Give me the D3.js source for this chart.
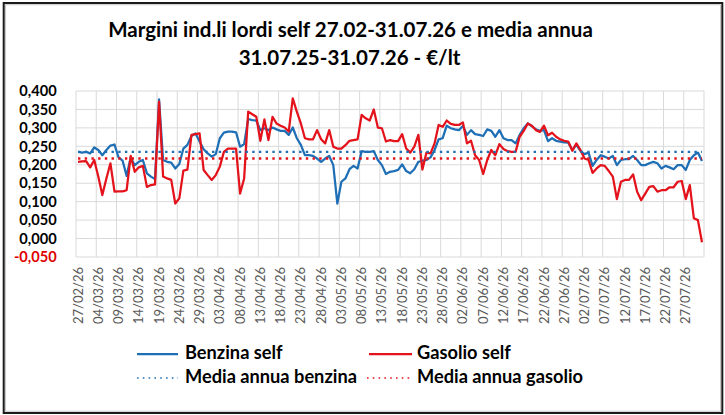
<!DOCTYPE html>
<html><head><meta charset="utf-8">
<script src="https://cdn.jsdelivr.net/npm/d3@7"></script>
<style>body{margin:0;background:#fff} svg{display:block}</style>
</head><body>
<svg id="c" width="725" height="415"></svg>
<script>
// ---------- DATA ----------
const startDate = "2026-02-27";
const endDate = "2026-07-31";
const benzinaSelf = [
0.235,0.233,0.235,0.231,0.247,0.240,0.226,0.240,0.252,0.255,
0.220,0.211,0.170,0.220,0.199,0.208,0.213,0.177,0.168,0.161,
0.377,0.213,0.208,0.206,0.190,0.202,0.244,0.254,0.278,0.285,
0.263,0.242,0.231,0.222,0.229,0.272,0.287,0.290,0.290,0.288,
0.249,0.256,0.324,0.321,0.320,0.294,0.299,0.294,0.301,0.296,
0.292,0.292,0.281,0.301,0.272,0.254,0.226,0.226,0.224,0.217,
0.208,0.217,0.224,0.199,0.095,0.154,0.163,0.188,0.197,0.190,
0.237,0.235,0.235,0.237,0.213,0.199,0.175,0.181,0.183,0.186,
0.201,0.183,0.177,0.188,0.208,0.211,0.213,0.220,0.240,0.269,
0.272,0.306,0.299,0.296,0.294,0.305,0.281,0.294,0.283,0.281,
0.278,0.296,0.292,0.276,0.294,0.272,0.267,0.267,0.258,0.281,
0.299,0.312,0.305,0.296,0.292,0.294,0.264,0.272,0.265,0.263,
0.261,0.260,0.240,0.254,0.238,0.229,0.233,0.197,0.213,0.226,
0.222,0.217,0.224,0.199,0.213,0.215,0.215,0.224,0.213,0.199,
0.199,0.204,0.208,0.204,0.190,0.197,0.193,0.188,0.199,0.199,
0.186,0.213,0.226,0.233,0.210];
const gasolioSelf = [
0.208,0.209,0.210,0.193,0.213,0.168,0.118,0.163,0.204,0.127,
0.128,0.128,0.131,0.224,0.181,0.193,0.197,0.140,0.145,0.147,
0.371,0.168,0.163,0.159,0.095,0.109,0.184,0.187,0.281,0.283,
0.285,0.186,0.172,0.159,0.172,0.195,0.235,0.244,0.244,0.244,
0.122,0.163,0.344,0.337,0.330,0.265,0.323,0.267,0.330,0.312,
0.306,0.301,0.290,0.380,0.344,0.312,0.272,0.269,0.269,0.294,
0.269,0.258,0.294,0.249,0.244,0.244,0.253,0.265,0.267,0.269,
0.335,0.326,0.320,0.350,0.301,0.299,0.263,0.267,0.264,0.264,
0.283,0.244,0.233,0.249,0.281,0.187,0.233,0.231,0.258,0.308,
0.303,0.320,0.311,0.308,0.308,0.315,0.258,0.265,0.226,0.213,
0.175,0.213,0.240,0.226,0.256,0.243,0.237,0.235,0.235,0.276,
0.292,0.312,0.306,0.294,0.289,0.306,0.280,0.287,0.276,0.269,
0.265,0.263,0.238,0.258,0.240,0.217,0.213,0.178,0.190,0.199,
0.197,0.183,0.168,0.107,0.154,0.159,0.159,0.174,0.127,0.104,
0.122,0.140,0.142,0.127,0.131,0.131,0.139,0.139,0.154,0.156,
0.107,0.145,0.055,0.050,-0.010];
const mediaAnnuaBenzina = 0.235;
const mediaAnnuaGasolio = 0.217;
const yTickValues = [0.400,0.350,0.300,0.250,0.200,0.150,0.100,0.050,0.000,-0.050];
const xTickEvery = 5;
const titleLines = ["Margini ind.li lordi self 27.02-31.07.26 e media annua", "31.07.25-31.07.26 - €/lt"];
const seriesNames = ["Benzina self", "Gasolio self", "Media annua benzina", "Media annua gasolio"];

// ---------- LAYOUT ----------
const BLUE = "#1F6FB6", RED = "#E3121B", GRID = "#D9D9D9";
const FONT = "Lato, 'Open Sans', sans-serif";
const L = 76, R = 704, T = 91, B = 257;

const svg = d3.select("#c");
svg.append("rect").attr("width",725).attr("height",415).attr("fill","#fff");

const parse = d3.utcParse("%Y-%m-%d");
const dates = d3.utcDay.range(parse(startDate), d3.utcDay.offset(parse(endDate), 1));
const fmt = d3.utcFormat("%d/%m/%y");

const x = d3.scaleBand().domain(d3.range(dates.length)).range([L, R]).padding(0);
const y = d3.scaleLinear().domain([-0.05, 0.4]).range([B, T]);
const cx = i => x(i) + x.bandwidth() / 2;

function fit(sel, target) {
  const w = sel.node().getComputedTextLength();
  const fs = parseFloat(sel.attr("font-size"));
  return fs * target / w;
}

// gridlines
const g = svg.append("g");
g.selectAll("line.h").data(yTickValues).join("line")
  .attr("x1", L).attr("x2", R).attr("y1", d => y(d)).attr("y2", d => y(d))
  .attr("stroke", GRID).attr("stroke-width", 1);
const vIdx = d3.range(0, dates.length, xTickEvery);
g.selectAll("line.v").data(vIdx.concat([dates.length])).join("line")
  .attr("x1", d => d < dates.length ? x(d) : R).attr("x2", d => d < dates.length ? x(d) : R)
  .attr("y1", T).attr("y2", B)
  .attr("stroke", GRID).attr("stroke-width", 1);

// y axis labels
const yl = svg.append("g");
const probe = yl.append("text").attr("font-family", FONT).attr("font-weight", 700).attr("font-size", 16).text("0,400");
const yfs = fit(probe, 37.4); probe.remove();
const yfmt = v => d3.format(".3f")(v).replace("−", "-").replace(".", ",");
yl.selectAll("text").data(yTickValues).join("text")
  .attr("x", 56.7).attr("y", d => y(d)).attr("dy", "0.36em")
  .attr("text-anchor", "end").attr("font-family", FONT).attr("font-weight", 700)
  .attr("font-size", yfs).attr("fill", d => d < 0 ? "#E00000" : "#000")
  .text(yfmt);

// x axis labels
const xl = svg.append("g");
const p2 = xl.append("text").attr("font-family", FONT).attr("font-size", 12).text(fmt(dates[0]));
const xfs = fit(p2, 57); p2.remove();
xl.selectAll("text").data(vIdx).join("text")
  .attr("transform", i => `translate(${cx(i)},267) rotate(-90)`)
  .attr("dy", "0.35em").attr("text-anchor", "end")
  .attr("font-family", FONT).attr("font-size", xfs).attr("fill", "#595959")
  .text(i => fmt(dates[i]));

// series
const line = d3.line().x((d, i) => cx(i)).y(d => y(d));
svg.append("path").datum(benzinaSelf).attr("d", line).attr("fill", "none")
  .attr("stroke", BLUE).attr("stroke-width", 2.25).attr("stroke-linejoin", "round");
svg.append("path").datum(gasolioSelf).attr("d", line).attr("fill", "none")
  .attr("stroke", RED).attr("stroke-width", 2.25).attr("stroke-linejoin", "round");
const meanLine = v => d3.line().x((d, i) => cx(i)).y(() => y(v))(dates);
svg.append("path").attr("d", meanLine(mediaAnnuaBenzina)).attr("fill", "none")
  .attr("stroke", BLUE).attr("stroke-width", 2.4).attr("stroke-dasharray", "2.4 4.3");
svg.append("path").attr("d", meanLine(mediaAnnuaGasolio)).attr("fill", "none")
  .attr("stroke", RED).attr("stroke-width", 2.4).attr("stroke-dasharray", "2.4 4.3");

// title
const tg = svg.append("g");
const t1 = tg.append("text").attr("font-family", FONT).attr("font-weight", 700).attr("font-size", 20).text(titleLines[0]);
const tfs = fit(t1, 485);
t1.attr("font-size", tfs).attr("x", 350.5).attr("y", 36.7).attr("text-anchor", "middle").attr("fill", "#000");
tg.append("text").attr("font-family", FONT).attr("font-weight", 700).attr("font-size", tfs)
  .attr("x", 349.5).attr("y", 65).attr("text-anchor", "middle").attr("fill", "#000").text(titleLines[1]);

// legend
const lg = svg.append("g");
const p3 = lg.append("text").attr("font-family", FONT).attr("font-weight", 700).attr("font-size", 16).text(seriesNames[0]);
const lfs = fit(p3, 97.7); p3.remove();
const legendPos = [
  {x1: 137, x2: 178, tx: 185, y: 354, base: 359.3, color: BLUE, dotted: false},
  {x1: 369, x2: 412, tx: 417, y: 354, base: 359.3, color: RED, dotted: false},
  {x1: 137, x2: 178, tx: 185, y: 378, base: 383.3, color: BLUE, dotted: true},
  {x1: 367, x2: 412, tx: 417, y: 378, base: 383.3, color: RED, dotted: true}
];
seriesNames.forEach((name, k) => {
  const p = legendPos[k];
  lg.append("line").attr("x1", p.x1).attr("x2", p.x2).attr("y1", p.y).attr("y2", p.y)
    .attr("stroke", p.color).attr("stroke-width", p.dotted ? 1.6 : 2.25)
    .attr("stroke-dasharray", p.dotted ? "1.6 4.2" : null);
  lg.append("text").attr("x", p.tx).attr("y", p.base).attr("font-family", FONT)
    .attr("font-weight", 700).attr("font-size", lfs).attr("fill", "#000").text(name);
});

// outer frame
svg.append("rect").attr("x", 3.7).attr("y", 3).attr("width", 718.6).attr("height", 410)
  .attr("fill", "none").attr("stroke", "#1a1a1a").attr("stroke-width", 2);
svg.append("rect").attr("x", 5.5).attr("y", 4.8).attr("width", 715).attr("height", 406.4)
  .attr("fill", "none").attr("stroke", "#bbb").attr("stroke-width", 0.8);
</script>
</body></html>
